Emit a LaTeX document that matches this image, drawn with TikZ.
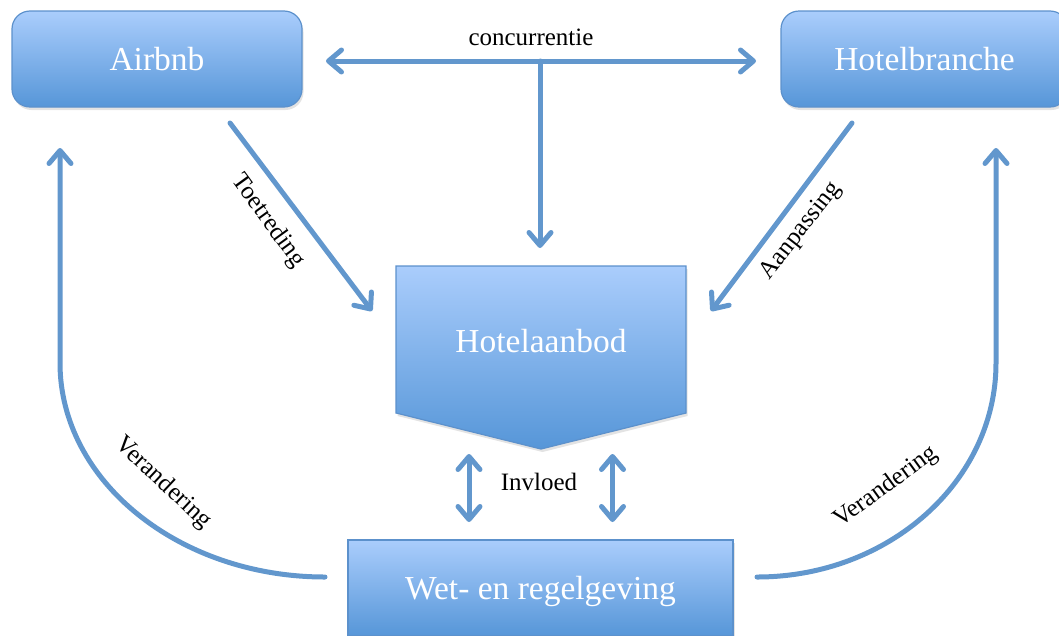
\documentclass[tikz,border=0pt]{standalone}
\usepackage{fontspec}
\setmainfont{Liberation Serif}
\usetikzlibrary{arrows.meta,shadows}
\definecolor{arrowblue}{RGB}{98,151,205}
\definecolor{boxtop}{RGB}{170,205,252}
\definecolor{boxbot}{RGB}{86,150,216}
\definecolor{boxline}{RGB}{92,145,204}
\begin{document}
\begin{tikzpicture}[x=1pt,y=-1pt,
  box/.style={draw=boxline, line width=1.2pt, top color=boxtop, bottom color=boxbot,
    text=white, font=\fontsize{33.5}{38}\selectfont, inner sep=0pt,
    drop shadow={opacity=0.22, shadow xshift=1.5pt, shadow yshift=-3pt}},
  boxtext/.style={text=white, font=\fontsize{33.5}{38}\selectfont, inner sep=0pt},
  lbl/.style={font=\fontsize{25}{30}\selectfont, inner sep=0pt, text=black},
  conn/.style={draw=arrowblue, line width=5pt, line cap=round,
    -{Straight Barb[length=13pt,width=22pt,round]}},
  dbl/.style={draw=arrowblue, line width=5pt,
    {Straight Barb[length=13pt,width=22pt,round]}-{Straight Barb[length=13pt,width=22pt,round]}}
]
\useasboundingbox (0,0) rectangle (1059,635);

% boxes
\node[box, rounded corners=18pt, minimum width=290pt, minimum height=96pt, text depth=0pt] (airbnb) at (157,59) {Airbnb};
\node[box, rounded corners=18pt, minimum width=287pt, minimum height=96pt, text depth=0pt] (hotelbr) at (924.5,59) {Hotelbranche};
\node[box, minimum width=385pt, minimum height=96pt, text depth=0pt] (wet) at (540.5,588) {Wet- en regelgeving};
\path[box] (396,266) -- (686,266) -- (686,413) -- (541,449) -- (396,413) -- cycle;
\node[boxtext] (hotel) at (541,341) {Hotelaanbod};

% coordinates for connector ends
\coordinate (cl) at (326,61);
\coordinate (cr) at (756,61);
\coordinate (cj) at (540,61);
\coordinate (cd) at (540,248);
\coordinate (ts) at (230,123);
\coordinate (te) at (372,311);
\coordinate (as) at (852,123);
\coordinate (ae) at (711,311);
\coordinate (i1t) at (469,454);
\coordinate (i1b) at (469,522);
\coordinate (i2t) at (612.5,454);
\coordinate (i2b) at (612.5,522);
\coordinate (vls) at (325,577);
\coordinate (vle) at (60,148);
\coordinate (vrs) at (757,577);
\coordinate (vre) at (996,148);

% connectors
\draw[dbl] (cl) -- (cr);
\draw[conn] (cj) -- (cd);
\draw[conn] (ts) -- (te);
\draw[conn] (as) -- (ae);
\draw[dbl] (i1t) -- (i1b);
\draw[dbl] (i2t) -- (i2b);
\draw[conn] (vls) .. controls (179,577) and (60,481) .. (60,363) -- (vle);
\draw[conn] (vrs) .. controls (889,577) and (996,481) .. (996,363) -- (vre);

% labels
\node[lbl] (conc) at (531,37) {concurrentie};
\node[lbl] (invl) at (539,482) {Invloed};
\node[lbl, rotate=-54] (toet) at (268,221) {Toetreding};
\node[lbl, rotate=52] (aanp) at (801,231) {Aanpassing};
\node[lbl, rotate=-43] (verl) at (163,483) {Verandering};
\node[lbl, rotate=36] (verr) at (886,487) {Verandering};
\end{tikzpicture}
\end{document}
